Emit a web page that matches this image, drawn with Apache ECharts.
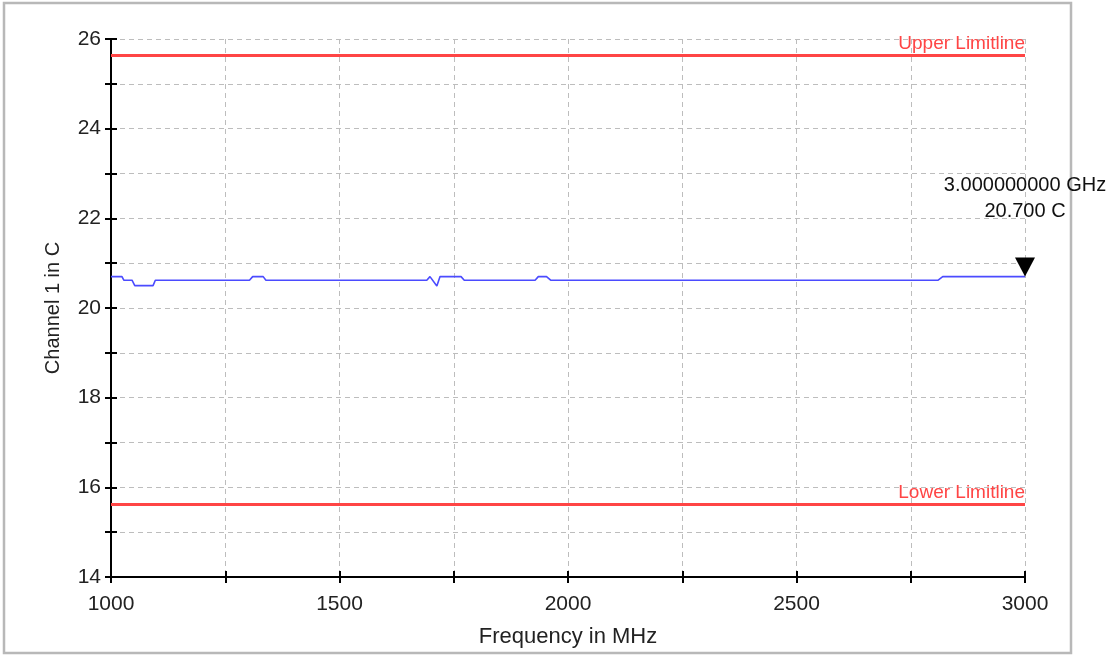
<!DOCTYPE html>
<html>
<head>
<meta charset="utf-8">
<title>Channel 1</title>
<script src="https://cdn.jsdelivr.net/npm/echarts@6/dist/echarts.min.js"></script>
<style>
  html, body { margin: 0; padding: 0; background: #fff; }
  #chart { width: 1115px; height: 655px; }
</style>
</head>
<body>
<div id="chart"></div>
<script>
// trace (MHz / C)
const freqs = [1000, 1024, 1028, 1046, 1052, 1092, 1097, 1303, 1310, 1333, 1339,
  1691, 1698, 1713, 1720, 1766, 1773, 1928, 1935, 1953, 1962, 2810, 2820, 3000]
const channel1 = [20.7, 20.7, 20.62, 20.62, 20.5, 20.5, 20.62, 20.62, 20.7, 20.7, 20.62,
  20.62, 20.7, 20.49, 20.7, 20.7, 20.62, 20.62, 20.7, 20.7, 20.62, 20.62, 20.7, 20.7]
const limits = [
  { name: 'Upper Limitline', value: 25.63 },
  { name: 'Lower Limitline', value: 15.63 }
]
const marker = { freq: 3000, value: 20.7, text: ['3.000000000 GHz', '20.700 C'] }
const xTicks = { min: 1000, max: 3000, step: 250, labelStep: 500 }
const yTicks = { min: 14, max: 26, step: 1, labelStep: 2 }

const FONT = "'Liberation Sans', Arial, sans-serif"
const chart = echarts.init(document.getElementById('chart'))

// one axis draws the inner half of the ticks, the other the outer half
function xAxisOf(inside, main) {
  return {
    type: 'value',
    position: 'bottom',
    min: xTicks.min, max: xTicks.max, interval: xTicks.step,
    axisLine: { show: true, onZero: false, lineStyle: { color: '#000', width: 2 } },
    axisTick: { show: true, inside: inside, length: 6, lineStyle: { color: '#000', width: 2 } },
    axisLabel: {
      show: main, margin: 17, color: '#222', fontSize: 21, fontFamily: FONT,
      formatter: v => (v % xTicks.labelStep === 0 ? String(v) : '')
    },
    splitLine: { show: main, lineStyle: { color: '#bdbdbd', type: [5, 4], width: 1 } },
    name: main ? 'Frequency in MHz' : '',
    nameLocation: 'middle', nameGap: 49,
    nameTextStyle: { color: '#222', fontSize: 22, fontFamily: FONT }
  }
}
function yAxisOf(inside, main) {
  return {
    type: 'value',
    position: 'left',
    min: yTicks.min, max: yTicks.max, interval: yTicks.step,
    axisLine: { show: true, onZero: false, lineStyle: { color: '#000', width: 2 } },
    axisTick: { show: true, inside: inside, length: 6, lineStyle: { color: '#000', width: 2 } },
    axisLabel: {
      show: main, margin: 10, color: '#222', fontSize: 21, fontFamily: FONT,
      formatter: v => (v % yTicks.labelStep === 0 ? String(v) : '')
    },
    splitLine: { show: main, lineStyle: { color: '#bdbdbd', type: [5, 4], width: 1 } },
    name: main ? 'Channel 1 in C' : '',
    nameLocation: 'middle', nameGap: 48,
    nameTextStyle: { color: '#222', fontSize: 20, fontFamily: FONT }
  }
}

const option = {
  animation: false,
  backgroundColor: '#fff',
  grid: { left: 111, right: 90, top: 39, bottom: 78 },
  graphic: [{
    type: 'rect', z: -10,
    shape: { x: 4, y: 3, width: 1067, height: 650 },
    style: { fill: 'none', stroke: '#b8b8b8', lineWidth: 2.5 }
  }],
  xAxis: [xAxisOf(false, true), xAxisOf(true, false)],
  yAxis: [yAxisOf(false, true), yAxisOf(true, false)],
  series: [{
    type: 'line',
    xAxisIndex: 0, yAxisIndex: 0,
    data: freqs.map((f, i) => [f, channel1[i]]),
    showSymbol: false,
    lineStyle: { color: '#4b4bff', width: 1.6 },
    markLine: {
      silent: true, symbol: 'none',
      lineStyle: { color: '#ff4545', type: 'solid', width: 3 },
      label: {
        position: 'insideEndTop', distance: [0, 2],
        color: '#ff4545', fontSize: 19, fontFamily: FONT,
        formatter: p => p.name
      },
      data: limits.map(l => ({ name: l.name, yAxis: l.value }))
    },
    markPoint: {
      silent: true,
      symbol: 'path://M0,0L20,0L10,19Z',
      symbolSize: [20, 19],
      symbolOffset: [0, '-50%'],
      itemStyle: { color: '#000' },
      label: {
        show: true, position: 'top', distance: 33,
        color: '#111', fontSize: 20, lineHeight: 26, fontFamily: FONT,
        align: 'center',
        formatter: () => marker.text.join('\n')
      },
      data: [{ coord: [marker.freq, marker.value] }]
    }
  }]
}
chart.setOption(option)
</script>
</body>
</html>
